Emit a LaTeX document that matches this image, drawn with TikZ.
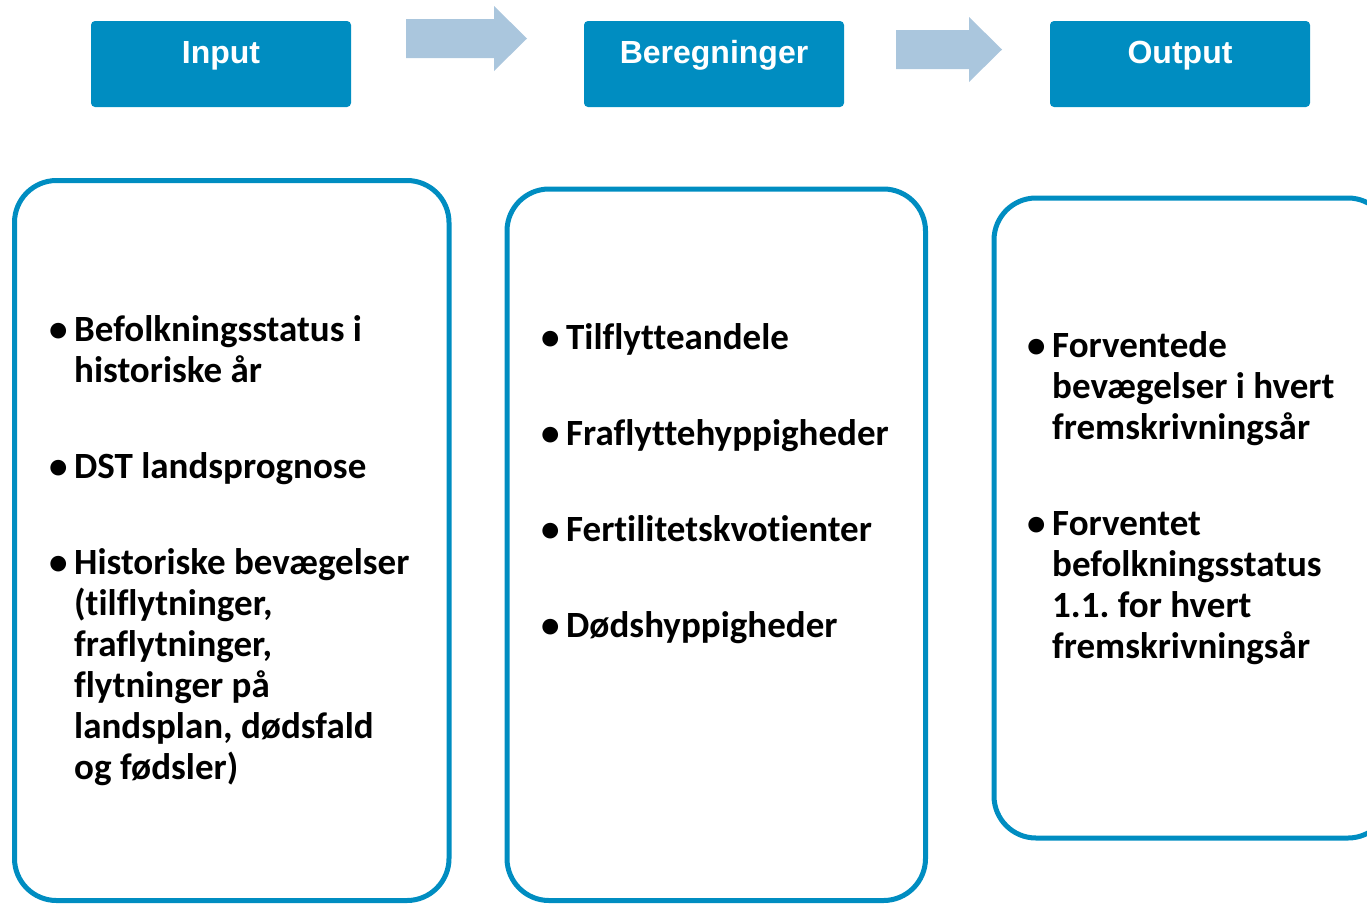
\documentclass[tikz,border=0pt]{standalone}
\usepackage{fontspec}
\setmainfont{Carlito}[Ligatures=NoCommon]
\newfontfamily\hdrfont{Liberation Sans}
\definecolor{blaa}{RGB}{0,141,193}
\definecolor{lysblaa}{RGB}{170,198,221}
\newcommand{\itm}{\par\noindent\makebox[25pt][l]{•}}
\newcommand{\nl}{\newline\hspace*{25pt}}
\newcommand{\gap}{\par\vspace{55pt}}
\newcommand{\punkter}[2]{\vtop{\hsize=#1\parindent=0pt\frenchspacing #2}}
\tikzset{
	hoved/.style={fill=blaa,rounded corners=4pt},
	ramme/.style={draw=blaa,line width=5pt,rounded corners=42pt},
	liste/.style={anchor=base west,inner sep=0pt,font=\bfseries\fontsize{37}{41}\selectfont},
	pil/.style={fill=lysblaa}
}
\begin{document}
\begin{tikzpicture}[x=1pt,y=-1pt]
		\useasboundingbox (0,0) rectangle (1367,903);
		\clip (0,0) rectangle (1367,903);
		\foreach \navn/\x [count=\i] in {Input/91,Beregninger/584,Output/1050}{
			\fill[hoved] (\x,21) rectangle ++(260,86);
			\node[anchor=base,text=white,font=\hdrfont\bfseries\fontsize{32}{38}\selectfont] (h\i) at (\x+130,63) {\navn};
		}
		\foreach \xa/\xb/\xc/\ym in {406/494/527/38.5,896/969/1002/49.5}{
			\fill[pil] (\xa,\ym-19.5) -- (\xb,\ym-19.5) -- (\xb,\ym-32.5) -- (\xc,\ym) -- (\xb,\ym+32.5) -- (\xb,\ym+19.5) -- (\xa,\ym+19.5) -- cycle;
		}
		\draw[ramme] (14.5,180.5) rectangle (449,900.5);
		\draw[ramme] (507,189) rectangle (925.5,900.5);
		\draw[ramme] (994,198) rectangle (1390,838);
		\node[liste] (l1) at (49,341) {\punkter{400pt}{\itm Befolkningsstatus i\nl historiske år\gap
			\itm DST landsprognose\gap
			\itm Historiske bevægelser\nl (tilflytninger,\nl fraflytninger,\nl flytninger på\nl landsplan, dødsfald\nl og fødsler)}};
		\node[liste] (l2) at (541,349) {\punkter{380pt}{\itm Tilflytteandele\gap
			\itm Fraflyttehyppigheder\gap
			\itm Fertilitetskvotienter\gap
			\itm Dødshyppigheder}};
		\node[liste] (l3) at (1027,357) {\punkter{340pt}{\itm Forventede\nl bevægelser i hvert\nl fremskrivningsår\gap
			\itm Forventet\nl befolkningsstatus\nl 1.1. for hvert\nl fremskrivningsår}};
	\end{tikzpicture}
\end{document}
